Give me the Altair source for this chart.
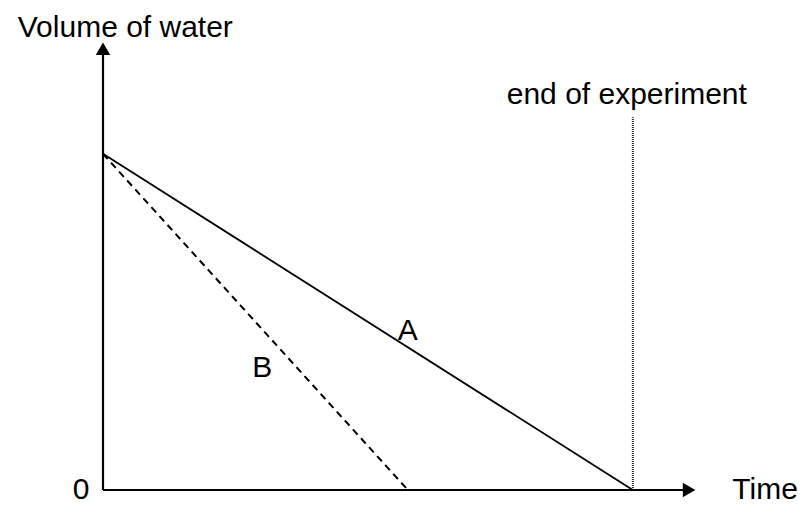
import altair as alt
import pandas as pd

# Curve A (solid) and curve B (dashed): time vs volume of water
time_a = [0.0, 8.95]
vol_a = [7.52, 0.0]
time_b = [0.0, 5.15]
vol_b = [7.52, 0.0]

# "end of experiment" marker
end_time = [8.95]
end_top = [8.34]

# axis extents (arrow shafts) and arrow head centres
axis_x_end = 9.8
axis_y_end = 9.75
arrow_x = [9.9]
arrow_y = [9.87]

# text labels (left edge, baseline)
label_text = ["Volume of water", "end of experiment", "Time", "0", "A", "B"]
label_x = [-1.44, 6.82, 10.63, -0.51, 4.98, 2.52]
label_y = [10.13, 8.64, -0.20, -0.20, 3.36, 2.53]

FONT = "Liberation Sans"

xs = alt.Scale(domain=[0, 10], nice=False, zero=False)
ys = alt.Scale(domain=[0, 10], nice=False, zero=False)

df_a = pd.DataFrame({"t": time_a, "v": vol_a})
df_b = pd.DataFrame({"t": time_b, "v": vol_b})

line_a = alt.Chart(df_a).mark_line(color="black", strokeWidth=1.8, clip=False).encode(
    x=alt.X("t:Q", scale=xs, axis=None), y=alt.Y("v:Q", scale=ys, axis=None)
)
line_b = alt.Chart(df_b).mark_line(color="black", strokeWidth=2, strokeDash=[7, 5], clip=False).encode(
    x=alt.X("t:Q", scale=xs, axis=None), y=alt.Y("v:Q", scale=ys, axis=None)
)

df_end = pd.DataFrame({"t": end_time, "v0": [0.0], "v1": end_top})
end_rule = alt.Chart(df_end).mark_rule(color="#222222", strokeWidth=2, strokeDash=[1, 1]).encode(
    x=alt.X("t:Q", scale=xs, axis=None), y=alt.Y("v0:Q", scale=ys, axis=None), y2="v1:Q"
)

df_xaxis = pd.DataFrame({"a": [0.0], "b": [axis_x_end], "y": [0.0]})
x_axis = alt.Chart(df_xaxis).mark_rule(color="black", strokeWidth=2.2).encode(
    x=alt.X("a:Q", scale=xs, axis=None), x2="b:Q", y=alt.Y("y:Q", scale=ys, axis=None)
)
df_yaxis = pd.DataFrame({"x": [0.0], "a": [0.0], "b": [axis_y_end]})
y_axis = alt.Chart(df_yaxis).mark_rule(color="black", strokeWidth=2.2).encode(
    x=alt.X("x:Q", scale=xs, axis=None), y=alt.Y("a:Q", scale=ys, axis=None), y2="b:Q"
)

df_ax = pd.DataFrame({"x": arrow_x, "y": [0.0]})
arrow_right = alt.Chart(df_ax).mark_point(
    shape="triangle-right", filled=True, size=210, color="black", opacity=1, clip=False
).encode(x=alt.X("x:Q", scale=xs, axis=None), y=alt.Y("y:Q", scale=ys, axis=None))

df_ay = pd.DataFrame({"x": [0.0], "y": arrow_y})
arrow_up = alt.Chart(df_ay).mark_point(
    shape="triangle-up", filled=True, size=210, color="black", opacity=1, clip=False
).encode(x=alt.X("x:Q", scale=xs, axis=None), y=alt.Y("y:Q", scale=ys, axis=None))

df_lab = pd.DataFrame({"x": label_x, "y": label_y, "text": label_text})
labels = alt.Chart(df_lab).mark_text(
    align="left", baseline="alphabetic", font=FONT, fontSize=30, color="black", clip=False
).encode(
    x=alt.X("x:Q", scale=xs, axis=None), y=alt.Y("y:Q", scale=ys, axis=None), text="text:N"
)

chart = alt.layer(
    x_axis, y_axis, end_rule, line_a, line_b, arrow_right, arrow_up, labels
).properties(
    width=592,
    height=447,
    padding={"left": 95, "top": 35, "right": 107, "bottom": 15},
    autosize=alt.AutoSizeParams(type="none"),
    background="white",
).configure_view(stroke=None)

chart.save("out.html", embed_options={"renderer": "svg", "actions": False})
